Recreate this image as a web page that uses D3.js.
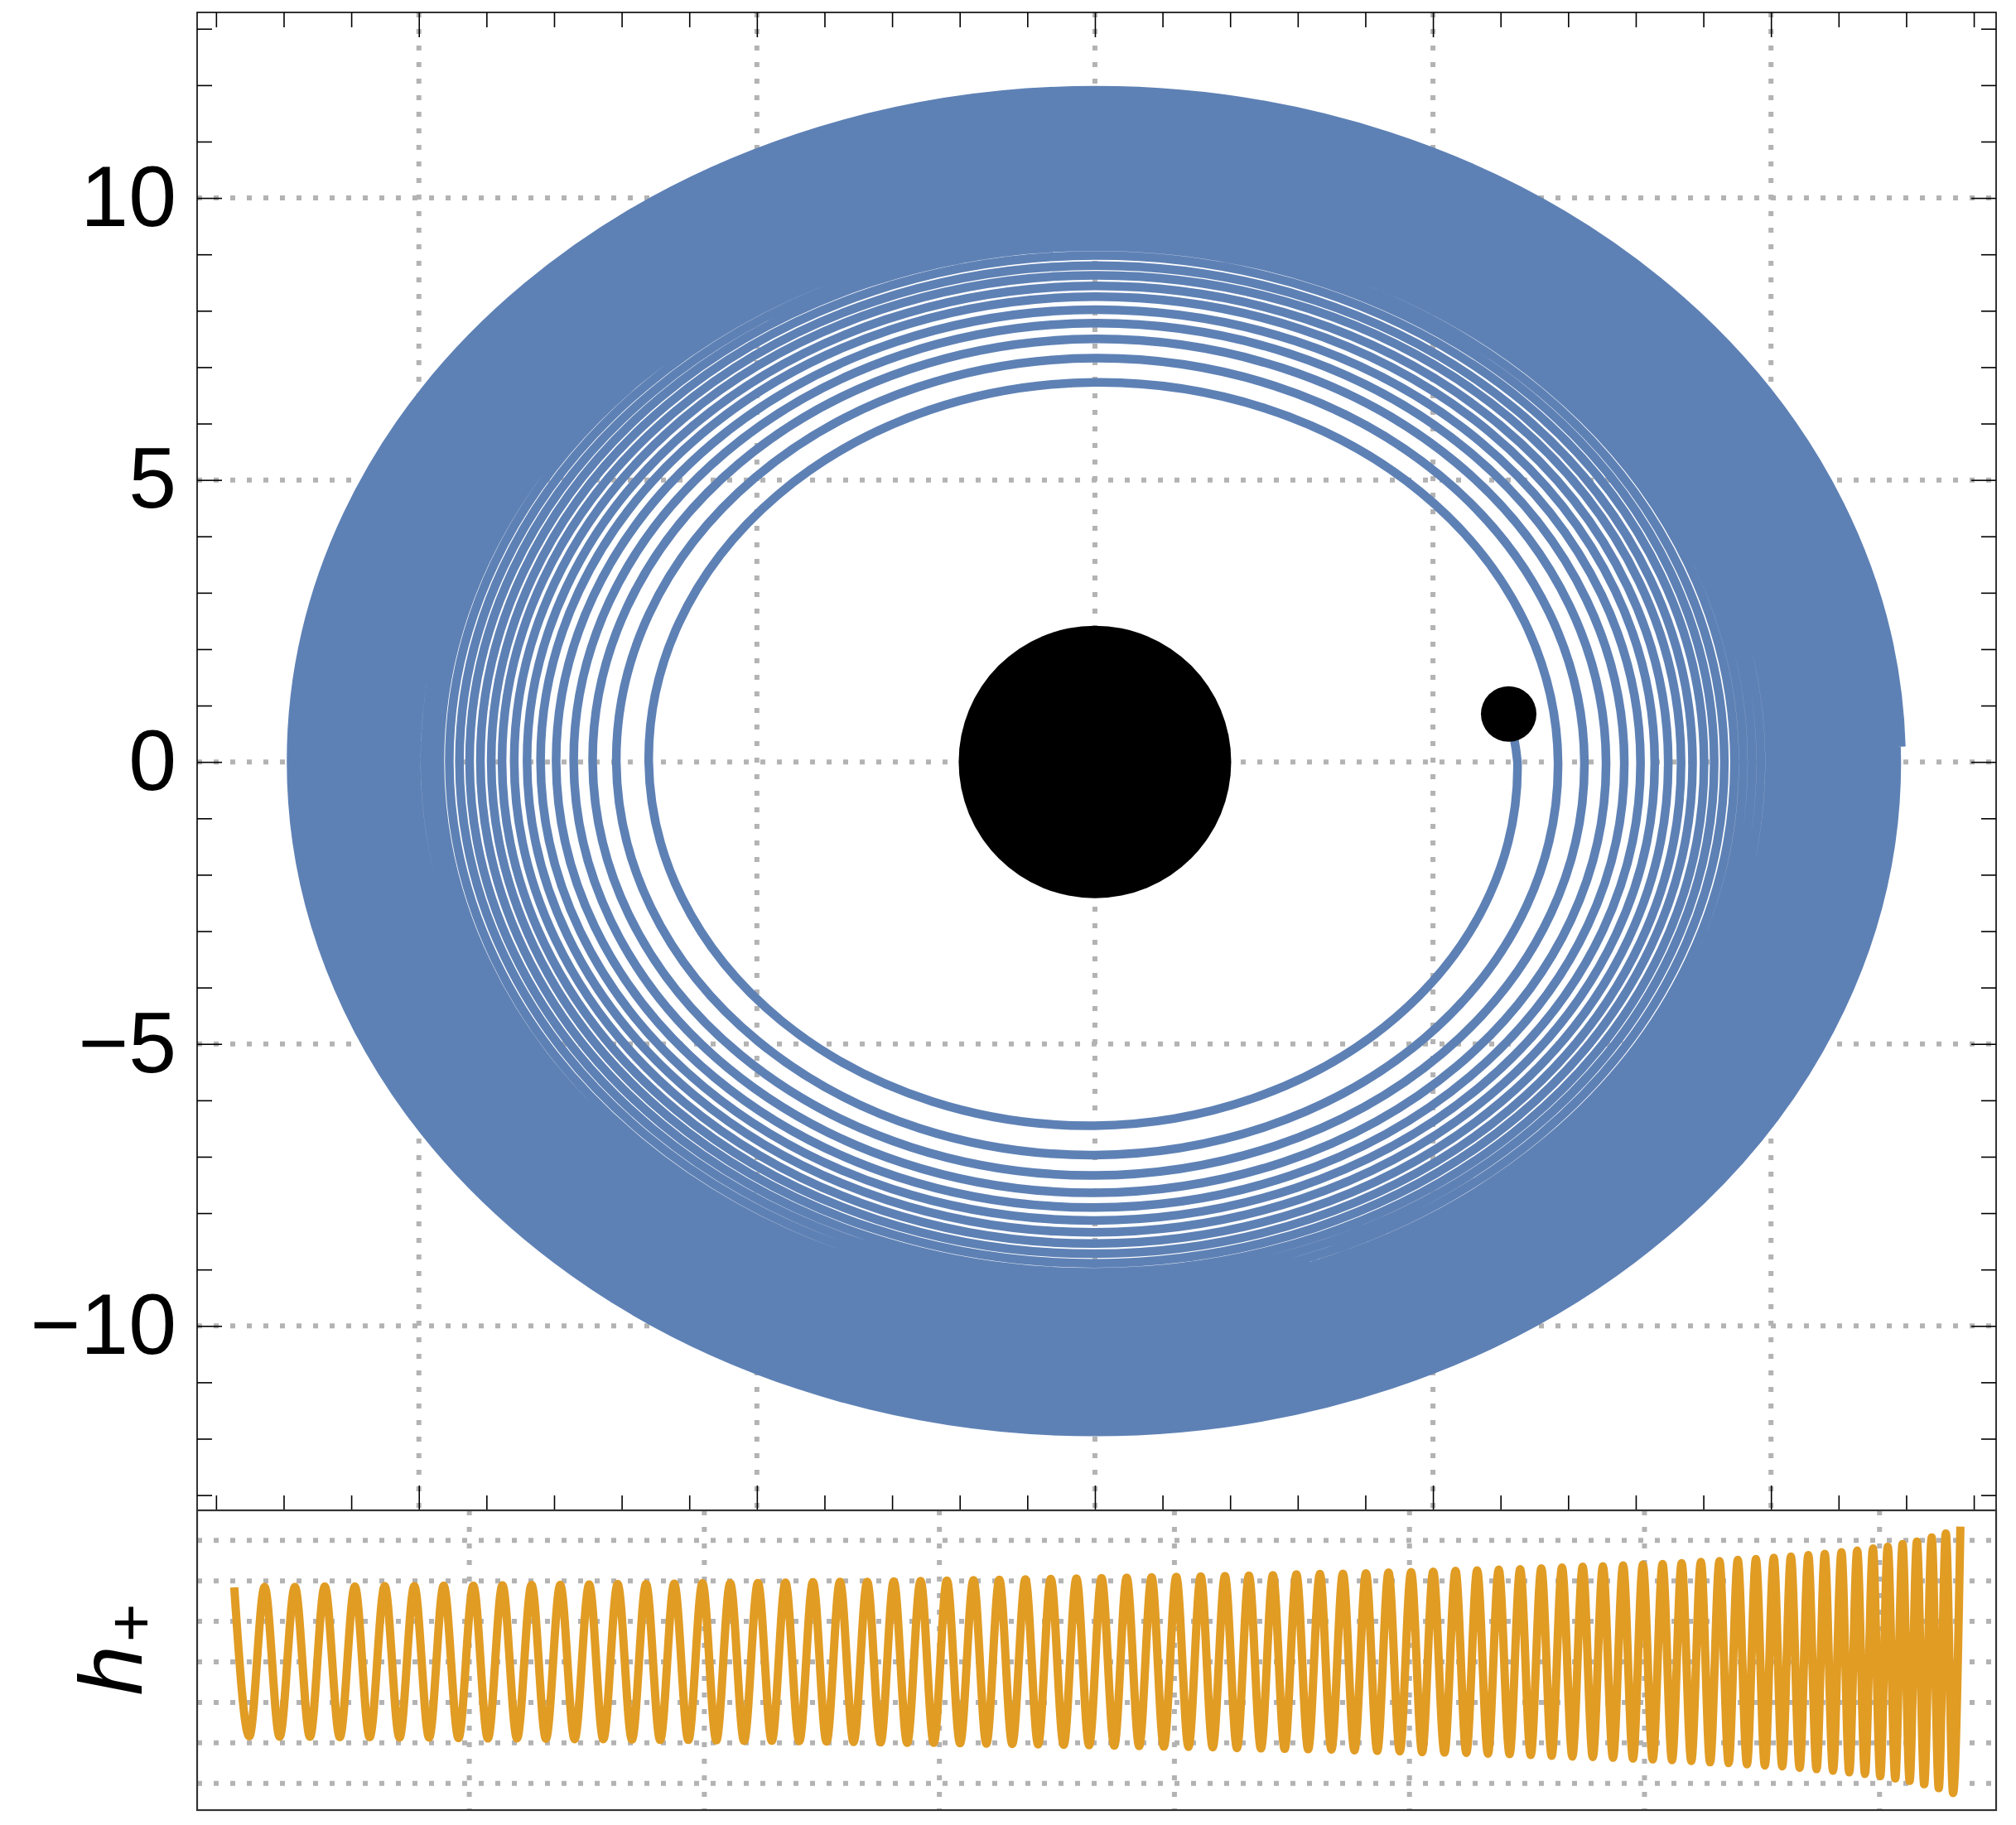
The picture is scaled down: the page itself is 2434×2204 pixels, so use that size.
<!DOCTYPE html>
<html lang="en">
<head>
  <meta charset="UTF-8" />
  <title>Inspiral orbit and h+</title>
  <script src="https://cdn.jsdelivr.net/npm/d3@7"></script>
  <style>
    body {
      margin: 0;
      background: #fff;
    }
    svg {
      display: block;
      font-family: 'Liberation Sans', Arial, sans-serif;
    }
    .grid line {
      stroke: #b3b3b3;
      stroke-width: 6;
      stroke-dasharray: 6 14;
    }
    .ticks line {
      stroke: #000;
      stroke-width: 1.6;
    }
    .ticks text {
      fill: #000;
      font-size: 104px;
    }
  </style>
</head>
<body>
  <svg id="chart" width="2434" height="2204"></svg>

  <script>
    // orbit radius at every quarter turn, counter-clockwise from the +x axis (right, top, left, bottom, ...)
    const orbitR = [
      11.93, 11.91, 11.89, 11.88,  11.86, 11.84, 11.82, 11.80,  11.79, 11.77, 11.75, 11.73,
      11.71, 11.69, 11.67, 11.65,  11.63, 11.61, 11.59, 11.57,  11.55, 11.53, 11.50, 11.48,
      11.46, 11.44, 11.42, 11.40,  11.37, 11.35, 11.33, 11.31,  11.28, 11.26, 11.24, 11.21,
      11.19, 11.17, 11.14, 11.12,  11.09, 11.07, 11.04, 11.02,  10.99, 10.97, 10.94, 10.92,
      10.89, 10.87, 10.84, 10.81,  10.79, 10.76, 10.73, 10.71,  10.68, 10.65, 10.63, 10.60,
      10.57, 10.54, 10.51, 10.49,  10.46, 10.43, 10.40, 10.37,  10.34, 10.31, 10.28, 10.25,
      10.22, 10.19, 10.16, 10.13,  10.10, 10.07, 10.04, 10.01,  9.98, 9.95, 9.91, 9.88,
      9.85, 9.82, 9.79, 9.76,  9.72, 9.70, 9.69, 9.64,  9.59, 9.57, 9.55, 9.50,
      9.46, 9.43, 9.40, 9.35,  9.31, 9.28, 9.25, 9.20,  9.16, 9.14, 9.09, 9.05,
      9.01, 8.98, 8.93, 8.89,  8.84, 8.80, 8.77, 8.72,  8.67, 8.63, 8.59, 8.54,
      8.48, 8.44, 8.40, 8.34,  8.28, 8.25, 8.20, 8.13,  8.07, 8.02, 7.97, 7.90,
      7.83, 7.78, 7.71, 7.64,  7.56, 7.50, 7.43, 7.33,  7.24, 7.16, 7.08, 6.97,
      6.85, 6.73, 6.60, 6.45,  6.25
    ];
    // the orbit starts slightly above the x axis (degrees)
    const orbitStartDeg = 1.3;

    // where the orbiting body ends up, and the central mass
    const bodyEnd = [6.12, 0.85];
    const centralMass = [0, 0];

    // h+ extrema: time (M) and amplitude, one per quarter turn
    const waveT = [
      0, 64, 129, 193,  258, 322, 385, 449,  513, 576, 640, 703,  766, 829, 891, 954,
      1017, 1079, 1141, 1203,  1265, 1326, 1387, 1448,  1510, 1570, 1631, 1692,  1752, 1812, 1872, 1932,
      1992, 2051, 2110, 2169,  2228, 2287, 2345, 2404,  2462, 2520, 2577, 2635,  2693, 2750, 2806, 2863,
      2920, 2976, 3032, 3088,  3145, 3200, 3255, 3310,  3366, 3420, 3474, 3529,  3583, 3637, 3690, 3744,
      3797, 3850, 3903, 3955,  4008, 4060, 4112, 4163,  4215, 4266, 4317, 4368,  4419, 4469, 4519, 4569,
      4619, 4668, 4717, 4766,  4815, 4863, 4911, 4959,  5007, 5054, 5101, 5149,  5196, 5242, 5288, 5334,
      5380, 5426, 5471, 5516,  5561, 5605, 5649, 5693,  5737, 5780, 5823, 5866,  5909, 5951, 5993, 6035,
      6077, 6117, 6158, 6199,  6240, 6279, 6319, 6358,  6397, 6436, 6474, 6512,  6550, 6586, 6623, 6660,
      6697, 6732, 6767, 6802,  6838, 6871, 6905, 6938,  6972, 7003, 7035, 7067,  7098, 7128, 7159, 7190,
      7222, 7252, 7282, 7313,  7344
    ];
    const waveH = [
      1.84, -1.84, 1.85, -1.85,  1.85, -1.85, 1.86, -1.86,  1.86, -1.86, 1.87, -1.87,
      1.87, -1.87, 1.88, -1.88,  1.88, -1.89, 1.89, -1.89,  1.90, -1.90, 1.90, -1.91,
      1.91, -1.91, 1.92, -1.92,  1.92, -1.93, 1.93, -1.93,  1.94, -1.94, 1.94, -1.95,
      1.95, -1.95, 1.96, -1.96,  1.97, -1.97, 1.98, -1.98,  1.98, -1.99, 1.99, -2.00,
      2.00, -2.00, 2.01, -2.01,  2.02, -2.02, 2.03, -2.03,  2.04, -2.04, 2.05, -2.05,
      2.06, -2.06, 2.07, -2.07,  2.08, -2.08, 2.09, -2.09,  2.10, -2.10, 2.11, -2.11,
      2.12, -2.13, 2.13, -2.14,  2.14, -2.15, 2.16, -2.16,  2.17, -2.17, 2.18, -2.19,
      2.19, -2.20, 2.21, -2.21,  2.22, -2.23, 2.23, -2.24,  2.25, -2.25, 2.26, -2.27,
      2.28, -2.28, 2.29, -2.30,  2.31, -2.32, 2.33, -2.34,  2.35, -2.35, 2.36, -2.37,
      2.38, -2.39, 2.40, -2.41,  2.42, -2.43, 2.44, -2.45,  2.47, -2.48, 2.49, -2.50,
      2.52, -2.53, 2.54, -2.56,  2.57, -2.58, 2.60, -2.62,  2.64, -2.65, 2.67, -2.69,
      2.71, -2.73, 2.75, -2.77,  2.80, -2.82, 2.84, -2.88,  2.91, -2.94, 2.97, -3.02,
      3.07, -3.12, 3.17, -3.24,  3.34
    ];

    // axis ticks and grid lines
    const orbitMajor = [-10, -5, 0, 5, 10];
    const orbitMinor = d3.range(-13, 14).filter(v => v % 5 !== 0);
    const waveGridT = [1000, 2000, 3000, 4000, 5000, 6000, 7000];
    const waveGridH = [-3, -2, -1, 0, 1, 2, 3];

    const svg = d3.select("#chart");
    const pLeft = 238, pRight = 2410, pTop = 15, pMid = 1824, pBottom = 2186;

    // upper panel: orbit
    const x = d3.scaleLinear().domain([-13.28, 13.33]).range([pLeft, pRight]);
    const y = d3.scaleLinear().domain([-13.27, 13.29]).range([pMid, pTop]);
    // lower panel: waveform
    const t = d3.scaleLinear().domain([-158, 7496]).range([pLeft, pRight]);
    const h = d3.scaleLinear().domain([-3.661, 3.742]).range([pBottom, pMid]);

    function drawGrid(g, xs, ys, sx, sy, y0, y1) {
      g.selectAll("line.v").data(xs).join("line").attr("class", "v")
        .attr("x1", d => sx(d)).attr("x2", d => sx(d))
        .attr("y1", y0).attr("y2", y1);
      g.selectAll("line.h").data(ys).join("line").attr("class", "h")
        .attr("x1", pLeft).attr("x2", pRight)
        .attr("y1", d => sy(d)).attr("y2", d => sy(d));
    }

    drawGrid(svg.append("g").attr("class", "grid"), orbitMajor, orbitMajor, x, y, pTop, pMid);
    drawGrid(svg.append("g").attr("class", "grid"), waveGridT, waveGridH, t, h, pMid, pBottom);

    // orbit: one elliptical arc per quarter turn (x and y scales differ)
    const kx = x(1) - x(0), ky = y(0) - y(1);
    const pts = orbitR.map((r, i) => {
      const a = i === 0 ? orbitStartDeg * Math.PI / 180 : i * Math.PI / 2;
      return [r * Math.cos(a), r * Math.sin(a), r];
    });
    pts.push([bodyEnd[0], bodyEnd[1], Math.hypot(bodyEnd[0], bodyEnd[1])]);

    let d = `M${x(pts[0][0])},${y(pts[0][1])}`;
    for (let i = 1; i < pts.length; i++) {
      const rm = (pts[i - 1][2] + pts[i][2]) / 2;
      d += `A${rm * kx},${rm * ky} 0 0 0 ${x(pts[i][0])},${y(pts[i][1])}`;
    }
    svg.append("path")
      .attr("d", d)
      .attr("fill", "none")
      .attr("stroke", "#5e81b5")
      .attr("stroke-width", 10.5);

    svg.append("circle")
      .attr("cx", x(centralMass[0])).attr("cy", y(centralMass[1]))
      .attr("r", 164.5).attr("fill", "#000");
    svg.append("circle")
      .attr("cx", x(bodyEnd[0])).attr("cy", y(bodyEnd[1]))
      .attr("r", 33.5).attr("fill", "#000");

    // waveform
    const wave = waveT.map((tt, i) => [tt, waveH[i]]);
    svg.append("path")
      .datum(wave)
      .attr("fill", "none")
      .attr("stroke", "#e19c24")
      .attr("stroke-width", 10)
      .attr("stroke-linejoin", "round")
      .attr("d", d3.line().x(p => t(p[0])).y(p => h(p[1])).curve(d3.curveMonotoneX));

    // ticks of the upper panel, pointing inwards on all four sides
    function ticks(axis, tx, ty) {
      svg.append("g").attr("class", "ticks")
        .attr("transform", `translate(${tx},${ty})`)
        .call(axis)
        .call(g => g.select(".domain").remove())
        .attr("font-size", null).attr("font-family", null);
    }
    ticks(d3.axisLeft(y).tickValues(orbitMajor).tickSize(-30).tickPadding(25), pLeft, 0);
    ticks(d3.axisLeft(y).tickValues(orbitMinor).tickSize(-18).tickFormat(""), pLeft, 0);
    ticks(d3.axisRight(y).tickValues(orbitMajor).tickSize(-30).tickFormat(""), pRight, 0);
    ticks(d3.axisRight(y).tickValues(orbitMinor).tickSize(-18).tickFormat(""), pRight, 0);
    ticks(d3.axisTop(x).tickValues(orbitMajor).tickSize(-30).tickFormat(""), 0, pTop);
    ticks(d3.axisTop(x).tickValues(orbitMinor).tickSize(-18).tickFormat(""), 0, pTop);
    ticks(d3.axisBottom(x).tickValues(orbitMajor).tickSize(-30).tickFormat(""), 0, pMid);
    ticks(d3.axisBottom(x).tickValues(orbitMinor).tickSize(-18).tickFormat(""), 0, pMid);

    // frames
    svg.append("rect")
      .attr("x", pLeft).attr("y", pTop)
      .attr("width", pRight - pLeft).attr("height", pMid - pTop)
      .attr("fill", "none").attr("stroke", "#000").attr("stroke-width", 1.6);
    svg.append("rect")
      .attr("x", pLeft).attr("y", pMid)
      .attr("width", pRight - pLeft).attr("height", pBottom - pMid)
      .attr("fill", "none").attr("stroke", "#333").attr("stroke-width", 2.2);

    // h+ label
    const lab = svg.append("text")
      .attr("transform", `translate(171,1992) rotate(-90)`)
      .attr("text-anchor", "middle")
      .attr("font-size", 108);
    lab.append("tspan").attr("font-style", "italic").text("h");
    lab.append("tspan").attr("font-size", 80).attr("dx", 4).attr("dy", 14).text("+");
  </script>
</body>
</html>
